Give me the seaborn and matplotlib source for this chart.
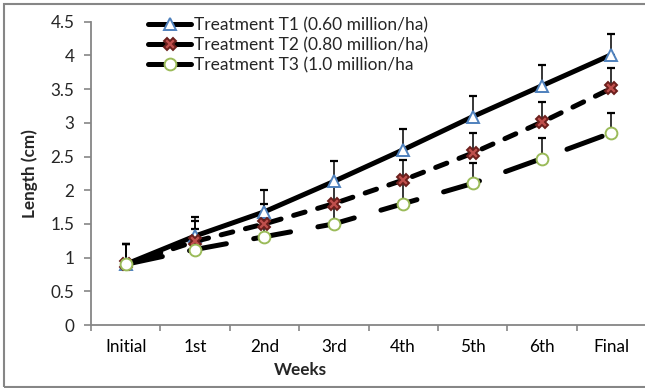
import matplotlib
matplotlib.use("Agg")
import matplotlib.pyplot as plt
import seaborn as sns
import pandas as pd
from matplotlib.lines import Line2D
from matplotlib.patches import Rectangle

weeks = ["Initial", "1st", "2nd", "3rd", "4th", "5th", "6th", "Final"]
t1 = [0.90, 1.32, 1.68, 2.13, 2.60, 3.09, 3.55, 4.01]
t2 = [0.90, 1.24, 1.50, 1.80, 2.15, 2.55, 3.01, 3.51]
t3 = [0.90, 1.12, 1.31, 1.50, 1.80, 2.10, 2.47, 2.85]
t1_err = [0.30, 0.28, 0.32, 0.31, 0.31, 0.31, 0.31, 0.31]
t2_err = [0.30, 0.30, 0.30, 0.30, 0.30, 0.30, 0.30, 0.30]
t3_err = [0.30, 0.30, 0.30, 0.30, 0.30, 0.30, 0.30, 0.29]
labels = ["Treatment T1 (0.60 million/ha)", "Treatment T2 (0.80 million/ha)",
          "Treatment T3 (1.0 million/ha"]

sns.set_style("white")
plt.rcParams["font.family"] = ["Lato", "DejaVu Sans"]
plt.rcParams["lines.scale_dashes"] = False

W, H = 645, 388
fig = plt.figure(figsize=(W / 100, H / 100), dpi=100)
ax = fig.add_axes([91 / W, 1 - 325 / H, 555 / W, (325 - 21.7) / H])

x = list(range(len(weeks)))
series = [
    (t1, t1_err, "^", "#4F81BD", "white", None, 8.5),
    (t2, t2_err, "X", "#6B1F1C", "#C0504D", (8.6, 9.4), 9),
    (t3, t3_err, "o", "#9BBB59", "white", (27, 20), 8.5),
]
gray = "#868686"
handles = []
for (vals, err, mk, ec, fc, dash, ms), lab in zip(series, labels):
    ax.errorbar(x, vals, yerr=[[0] * len(err), err], fmt="none", ecolor="black",
                elinewidth=1.1, capsize=2.8, capthick=1.6, zorder=1.5)
    df = pd.DataFrame({"week": x, "val": vals})
    sns.lineplot(data=df, x="week", y="val", ax=ax, color="black", lw=3.6,
                 marker=mk, markersize=ms,
                 markeredgecolor=ec, markerfacecolor=fc, markeredgewidth=1.4,
                 solid_capstyle="round", dash_capstyle="round", zorder=2)
    ln = ax.lines[-1]
    if dash is not None:
        ln.set_dashes(dash)
    handles.append(Line2D([0], [0], color="black", lw=3.6, solid_capstyle="round",
                          marker=mk, markersize=ms,
                          markeredgecolor=ec, markerfacecolor=fc, markeredgewidth=1.4))

ax.set_xlim(-0.5, 7.5)
ax.set_ylim(0, 4.5)
ax.set_yticks([0, 0.5, 1, 1.5, 2, 2.5, 3, 3.5, 4, 4.5])
ax.set_yticklabels(["0", "0.5", "1", "1.5", "2", "2.5", "3", "3.5", "4", "4.5"])
ax.set_xticks(x)
ax.set_xticklabels(weeks)
ax.set_xticks([i - 0.5 for i in range(9)], minor=True)
ax.tick_params(axis="x", which="major", length=0, pad=10, labelsize=12.3, colors="black")
ax.tick_params(axis="x", which="minor", length=4, width=1.2, color=gray, direction="out", bottom=True)
ax.tick_params(axis="y", which="major", length=5, width=1.2, color=gray, direction="out",
               left=True, pad=7, labelsize=12.3)
for s in ["top", "right"]:
    ax.spines[s].set_visible(False)
for s in ["left", "bottom"]:
    ax.spines[s].set_color(gray)
    ax.spines[s].set_linewidth(1.3)
ax.set_xlabel("")
ax.set_ylabel("Length (cm)", fontsize=12.3, fontweight="bold", labelpad=9)
fig.text(300 / W, 1 - 370 / H, "Weeks", ha="center", va="center", fontsize=12.3, fontweight="bold")

leg = ax.legend(handles, labels, loc="upper left", bbox_to_anchor=(148 / W, 1 - 17 / H),
                bbox_transform=fig.transFigure, frameon=False, fontsize=12.5,
                handlelength=2.5, handletextpad=0.15, labelspacing=0.22, borderpad=0,
                borderaxespad=0)

fig.patches.append(Rectangle((4 / W, 1 / H), 1.0, (383) / H, transform=fig.transFigure,
                             fill=False, edgecolor=gray, lw=1.5, zorder=0))
fig.savefig("out.png", dpi=100)
